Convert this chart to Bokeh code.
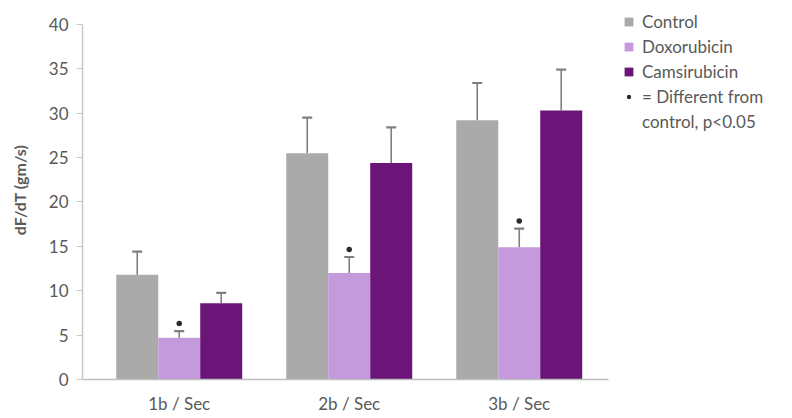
from bokeh.plotting import figure
from bokeh.models import (ColumnDataSource, Range1d, FixedTicker, Whisker, TeeHead,
                          Legend, LegendItem)
from bokeh.embed import file_html
from bokeh.resources import INLINE

categories = ["1b / Sec", "2b / Sec", "3b / Sec"]
series = ["Control", "Doxorubicin", "Camsirubicin"]
control = [11.8, 25.5, 29.2]
control_err = [2.6, 4.0, 4.2]
doxorubicin = [4.7, 12.0, 14.9]
doxorubicin_err = [0.75, 1.8, 2.1]
camsirubicin = [8.6, 24.4, 30.3]
camsirubicin_err = [1.15, 4.0, 4.6]
significant = [True, True, True]  # doxorubicin differs from control
note_lines = ["= Different from", "control, p<0.05"]
y_ticks = [0, 5, 10, 15, 20, 25, 30, 35, 40]

colors = ["#aaaaaa", "#c49adc", "#6a1577"]
FONT = "Lato"
TXT = "#595959"

W, H = 790, 416
p = figure(width=W, height=H, output_backend="svg", toolbar_location=None,
           x_range=Range1d(-0.569, -0.569 + (W - 82) / 170.0),
           y_range=Range1d(0, 380 / 8.9),
           min_border_left=82, min_border_right=0, min_border_top=0,
           min_border_bottom=H - 380)
p.outline_line_color = None
p.grid.grid_line_color = None
p.background_fill_color = "white"

bw = 0.247
offsets = [-bw, 0.0, bw]
vals = [control, doxorubicin, camsirubicin]
errs = [control_err, doxorubicin_err, camsirubicin_err]
renderers = []
for k, name in enumerate(series):
    xs = [i + offsets[k] for i in range(len(categories))]
    src = ColumnDataSource(dict(x=xs, top=vals[k],
                                upper=[v + e for v, e in zip(vals[k], errs[k])]))
    r = p.vbar(x="x", top="top", width=bw, source=src, fill_color=colors[k],
               line_color=None)
    renderers.append(r)
    w = Whisker(source=src, base="x", lower="top", upper="upper", dimension="height",
                line_color="#7f7f7f", line_width=1.6,
                upper_head=TeeHead(size=10, line_color="#7f7f7f", line_width=2.2),
                lower_head=None)
    p.add_layout(w)

# significance markers above doxorubicin error bars
sx = [i + offsets[1] for i, s in enumerate(significant) if s]
sy = [doxorubicin[i] + doxorubicin_err[i] + 0.85 for i, s in enumerate(significant) if s]
star = p.scatter(sx, sy, marker="circle", size=5.5, fill_color="#2b2b2b", line_color=None)
blank = p.scatter([], [], marker="square", size=1, fill_alpha=0, line_alpha=0)

# axes
p.xaxis.ticker = FixedTicker(ticks=list(range(len(categories))))
p.xaxis.major_label_overrides = {i: c for i, c in enumerate(categories)}
p.xaxis.bounds = (-0.6, len(categories) - 0.475)
p.xaxis.major_tick_line_color = None
p.xaxis.major_tick_out = 0
p.xaxis.major_tick_in = 0
p.xaxis.minor_tick_line_color = None
p.xaxis.axis_line_color = "#bfbfbf"
p.xaxis.axis_line_width = 1.5
p.xaxis.major_label_standoff = 13
p.xaxis.major_label_text_font = FONT
p.xaxis.major_label_text_font_size = "17px"
p.xaxis.major_label_text_color = TXT

p.yaxis.ticker = FixedTicker(ticks=y_ticks)
p.yaxis.bounds = (y_ticks[0], y_ticks[-1])
p.yaxis.axis_line_color = "#c8c8c8"
p.yaxis.axis_line_width = 1.5
p.yaxis.major_tick_line_color = "#c8c8c8"
p.yaxis.major_tick_in = 0
p.yaxis.major_tick_out = 6
p.yaxis.minor_tick_line_color = None
p.yaxis.major_label_standoff = 8
p.yaxis.major_label_text_font = FONT
p.yaxis.major_label_text_font_size = "17px"
p.yaxis.major_label_text_color = TXT
p.yaxis.axis_label = "dF/dT (gm/s)"
p.yaxis.axis_label_text_font = FONT
p.yaxis.axis_label_text_font_size = "16px"
p.yaxis.axis_label_text_font_style = "bold"
p.yaxis.axis_label_text_color = TXT
p.yaxis.axis_label_standoff = 17

items = [LegendItem(label=s, renderers=[r]) for s, r in zip(series, renderers)]
items.append(LegendItem(label=note_lines[0], renderers=[star]))
items.append(LegendItem(label=note_lines[1], renderers=[blank]))
legend = Legend(items=items, location=(541, 247), margin=0, padding=0,
                border_line_color=None, background_fill_alpha=0,
                glyph_width=11, glyph_height=11, label_standoff=8,
                label_height=20, spacing=4,
                label_text_font=FONT, label_text_font_size="17px", label_text_color=TXT)
p.add_layout(legend)

open("out.html", "w").write(file_html(p, INLINE))
